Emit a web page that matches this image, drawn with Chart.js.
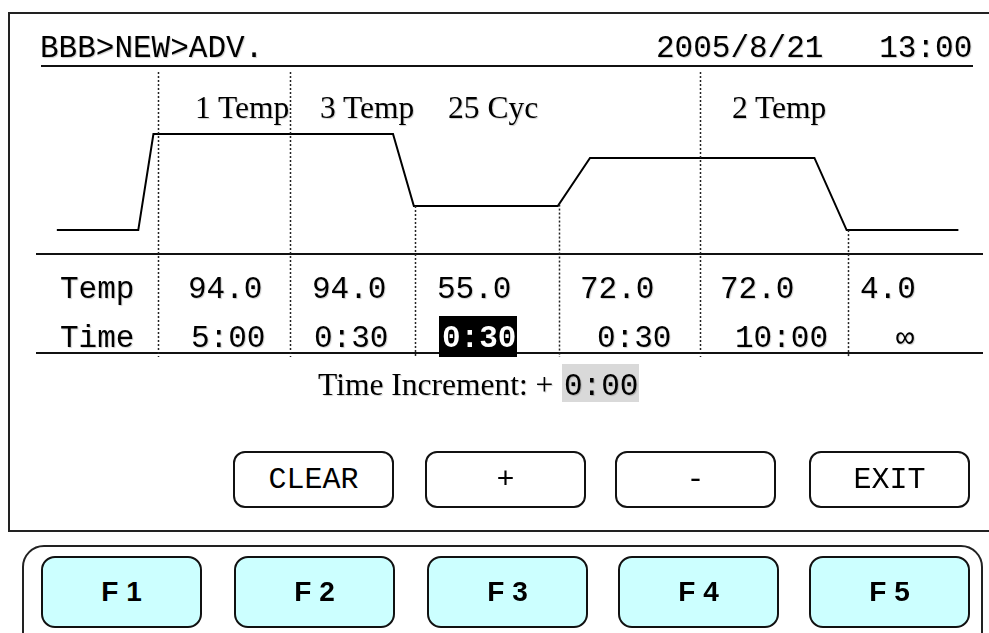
<!DOCTYPE html>
<html>
<head>
<meta charset="utf-8">
<script src="https://cdn.jsdelivr.net/npm/chart.js@4/dist/chart.umd.min.js"></script>
<style>
  html, body { margin: 0; padding: 0; background: #fff; overflow: hidden; }
  #pantalla { position: relative; width: 989px; height: 633px; overflow: hidden; }
  #perfil { position: absolute; left: 0; top: 0; }
  .capa { position: absolute; box-sizing: border-box; }
  .txt { position: absolute; white-space: pre; color: #000; text-shadow: 1px 1px 1px rgba(0,0,0,0.2); }
  .mono { font-family: "Liberation Mono", "Courier New", monospace; font-size: 31px; }
  .serif { font-family: "Liberation Serif", "Times New Roman", serif; font-size: 31.5px; }
  .linea { position: absolute; background: #111; height: 2px; }
  .boton { position: absolute; box-sizing: border-box; border: 2px solid #111; border-radius: 12px; background: #fff;
           display: flex; align-items: center; justify-content: center; }
  .fkey { background: #ccffff; border-radius: 14px; font-family: "Liberation Sans", Arial, sans-serif; font-weight: bold; font-size: 28px; }
</style>
</head>
<body>
<div id="pantalla">
  <div class="capa" style="left:8px; top:12px; width:1000px; height:520px; border:2px solid #222;"></div>
  <div class="capa" style="left:22px; top:545px; width:961px; height:120px; border:2px solid #222; border-radius:22px;"></div>
  <div class="linea" style="left:41px; top:65px; width:932px;"></div>
  <div class="linea" style="left:36px; top:253px; width:947px;"></div>
  <div class="linea" style="left:36px; top:352px; width:947px;"></div>
  <canvas id="perfil" width="989" height="633"></canvas>
</div>
<script>
const rutaPantalla = 'BBB>NEW>ADV.';
const fechaHora = '2005/8/21   13:00';
const gruposEtiquetas = ['1 Temp', '3 Temp', '25 Cyc', '2 Temp'];
const pasosTemp = ['94.0', '94.0', '55.0', '72.0', '72.0', '4.0'];
const pasosTiempo = ['5:00', '0:30', '0:30', '0:30', '10:00', '\u221E'];
const pasoSeleccionado = 2;
const incrementoTiempo = '0:00';
const teclasSuaves = ['CLEAR', '+', '-', 'EXIT'];
const teclasF = ['F 1', 'F 2', 'F 3', 'F 4', 'F 5'];

// Perfil esquemático: posición (0-100) y nivel de dibujo (0-100)
const perfilX = [2.2, 10.8, 12.4, 37.7, 39.9, 55.1, 58.5, 82.2, 85.6, 97.4];
const perfilNivel = [13.0, 13.0, 65.2, 65.2, 26.1, 26.1, 52.2, 52.2, 13.0, 13.0];
// Límites entre pasos (líneas punteadas); completo = límite de grupo
const limitesPaso = [12.9, 26.8, 40.0, 55.2, 70.1, 85.7];
const limiteCompleto = [true, true, false, false, true, false];

// ---- Posiciones de la maqueta ----
const xGrupos = [195, 320, 448, 732];
const xTemp = [188, 312, 437, 580, 720, 860];
const xTiempo = [191, 314, 442, 597, 735, 896];
const xTeclasSuaves = [233, 425, 615, 809];
const xTeclasF = [41, 234, 427, 618, 809];

const pantalla = document.getElementById('pantalla');

/** Coloca un texto con su línea base en (x, base) */
function ponerTexto(texto, x, base, clase, extra) {
  const el = document.createElement('span');
  el.className = 'txt ' + clase;
  el.textContent = texto;
  if (extra) Object.assign(el.style, extra);
  const marca = document.createElement('span');
  marca.style.cssText = 'display:inline-block;width:0;height:0;vertical-align:baseline;';
  el.appendChild(marca);
  pantalla.appendChild(el);
  el.style.left = x + 'px';
  el.style.top = (base - marca.offsetTop) + 'px';
  return el;
}

// Encabezado
ponerTexto(rutaPantalla, 40, 57, 'mono');
const fh = ponerTexto(fechaHora, 0, 57, 'mono');
fh.style.left = (972 - fh.offsetWidth) + 'px';

// Etiquetas de grupo
gruposEtiquetas.forEach((t, i) => ponerTexto(t, xGrupos[i], 118, 'serif'));

// Tabla de pasos
ponerTexto('Temp', 60, 298, 'mono');
ponerTexto('Time', 60, 347, 'mono');
pasosTemp.forEach((t, i) => ponerTexto(t, xTemp[i], 298, 'mono'));
pasosTiempo.forEach((t, i) => {
  if (i === pasoSeleccionado) {
    const sel = document.createElement('div');
    sel.className = 'capa';
    Object.assign(sel.style, { left: '439px', top: '316px', width: '78px', height: '41px', background: '#000' });
    pantalla.appendChild(sel);
    ponerTexto(t, xTiempo[i], 347, 'mono', { color: '#fff', fontWeight: 'bold', textShadow: 'none' });
  } else {
    ponerTexto(t, xTiempo[i], 347, 'mono');
  }
});

// Incremento de tiempo
ponerTexto('Time Increment: +', 318, 395, 'serif');
const caja = document.createElement('div');
caja.className = 'capa';
Object.assign(caja.style, { left: '562px', top: '364px', width: '77px', height: '38px', background: '#d9d9d9' });
pantalla.appendChild(caja);
ponerTexto(incrementoTiempo, 564, 395, 'mono');

// Teclas en pantalla
teclasSuaves.forEach((t, i) => {
  const b = document.createElement('div');
  b.className = 'boton mono';
  Object.assign(b.style, { left: xTeclasSuaves[i] + 'px', top: '451px', width: '161px', height: '57px', fontSize: '30px' });
  b.textContent = t;
  pantalla.appendChild(b);
});
teclasF.forEach((t, i) => {
  const b = document.createElement('div');
  b.className = 'boton fkey';
  Object.assign(b.style, { left: xTeclasF[i] + 'px', top: '556px', width: '161px', height: '72px' });
  b.textContent = t;
  pantalla.appendChild(b);
});

/** Plugin: líneas punteadas entre pasos, usando las escalas del gráfico */
const lineasPaso = {
  id: 'lineasPaso',
  afterDatasetsDraw(chart) {
    const { ctx, scales: { x, y } } = chart;
    ctx.save();
    ctx.strokeStyle = '#222';
    ctx.lineWidth = 1.5;
    ctx.setLineDash([2, 2]);
    limitesPaso.forEach((v, i) => {
      const px = Math.round(x.getPixelForValue(v)) + 0.5;
      let top = chart.chartArea.top + 2;
      if (!limiteCompleto[i]) {
        // arranca en el perfil
        let nivel = perfilNivel[0];
        for (let k = 1; k < perfilX.length; k++) {
          if (v <= perfilX[k]) {
            const f = (v - perfilX[k - 1]) / (perfilX[k] - perfilX[k - 1]);
            nivel = perfilNivel[k - 1] + f * (perfilNivel[k] - perfilNivel[k - 1]);
            break;
          }
        }
        top = y.getPixelForValue(nivel);
      }
      ctx.beginPath();
      ctx.moveTo(px, top);
      ctx.lineTo(px, 357);
      ctx.stroke();
    });
    ctx.restore();
  }
};

new Chart(document.getElementById('perfil'), {
  type: 'line',
  data: {
    datasets: [{
      data: perfilX.map((v, i) => ({ x: v, y: perfilNivel[i] })),
      borderColor: '#000',
      borderWidth: 2,
      pointRadius: 0,
      tension: 0,
      fill: false,
      clip: false,
    }],
  },
  options: {
    responsive: false,
    animation: false,
    devicePixelRatio: 1,
    layout: { padding: { left: 36, right: 6, top: 70, bottom: 379 } },
    plugins: { legend: { display: false }, tooltip: { enabled: false } },
    scales: {
      x: { type: 'linear', min: 0, max: 100, display: false },
      y: { type: 'linear', min: 0, max: 100, display: false },
    },
  },
  plugins: [lineasPaso],
});
</script>
</body>
</html>
